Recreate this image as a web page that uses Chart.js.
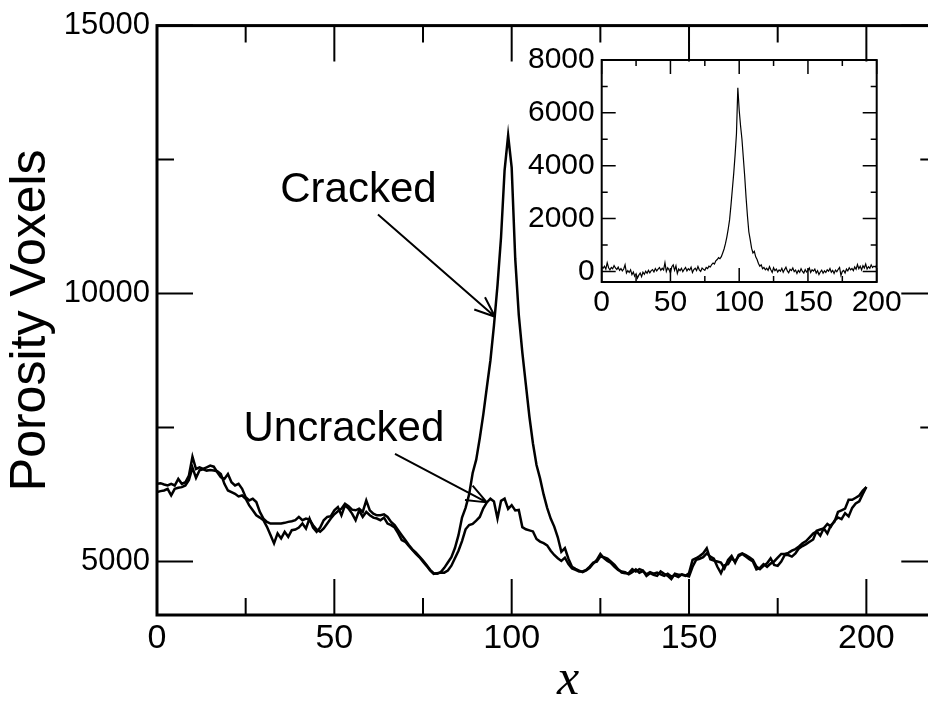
<!DOCTYPE html>
<html>
<head>
<meta charset="utf-8">
<title>Porosity Voxels</title>
<script src="https://cdn.jsdelivr.net/npm/chart.js@4.4.1/dist/chart.umd.min.js"></script>
<style>
  html, body { margin: 0; padding: 0; background: #fff; overflow: hidden; }
  #wrap { position: relative; width: 928px; height: 719px; overflow: hidden; }
  #mainChart { position: absolute; left: 0; top: 0; }
  #insetChart { position: absolute; left: 500px; top: 30px; }
</style>
</head>
<body>
<div id="wrap">
  <canvas id="mainChart" width="950" height="719"></canvas>
  <canvas id="insetChart" width="420" height="300"></canvas>
</div>
<script>
// porosity voxels per slice x = 0..200
const cracked = [
  6448, 6460, 6435, 6417, 6448, 6417, 6540, 6448, 6478, 6602,
  6954, 6725, 6756, 6725, 6756, 6787, 6768, 6664, 6571, 6540,
  6633, 6478, 6417, 6448, 6355, 6200, 6139, 6170, 6108, 5923,
  5800, 5738, 5707, 5707, 5707, 5707, 5720, 5738, 5750, 5769,
  5830, 5769, 5800, 5781, 5676, 5596, 5553, 5614, 5707, 5800,
  5880, 5935, 5985, 6077, 6028, 5966, 5954, 5985, 5923, 6139,
  5954, 5892, 5861, 5861, 5880, 5830, 5738, 5676, 5583, 5490,
  5398, 5306, 5225, 5164, 5090, 5016, 4935, 4843, 4781, 4769,
  4800, 4880, 4980, 5080, 5250, 5490, 5820, 6000, 6250, 6650,
  6900, 7300, 7745, 8250, 8750, 9400, 10150, 11050, 12300, 12950,
  12350, 10650, 9600, 8900, 8300, 7700, 7200, 6800, 6550, 6250,
  6000, 5800, 5650, 5450, 5180, 5250, 5050, 4900, 4860, 4830,
  4800, 4830, 4880, 4960, 5030, 5140, 5060, 5010, 4970, 4900,
  4840, 4810, 4800, 4760, 4800, 4850, 4790, 4820, 4760, 4800,
  4770, 4790, 4760, 4730, 4770, 4720, 4740, 4710, 4760, 4740,
  4720, 4900, 5030, 5050, 5080, 5150, 5090, 5050, 4900, 4780,
  4930, 4950, 5060, 5000, 5100, 5140, 5090, 5040, 5000, 4850,
  4880, 4950, 4900, 4960, 5000, 5070, 5140, 5140, 5160, 5200,
  5230, 5280, 5340, 5380, 5450, 5520, 5560, 5480, 5620, 5700,
  5650, 5760, 5820, 5790, 5900, 5840, 6000, 6080, 6120, 6260,
  6390
];
const uncracked = [
  6293, 6312, 6324, 6355, 6231, 6355, 6374, 6386, 6417, 6520,
  6750, 6560, 6700, 6720, 6695, 6707, 6695, 6683, 6633, 6448,
  6324, 6293, 6262, 6213, 6231, 6170, 6046, 5954, 5861, 5818,
  5769, 5645, 5491, 5336, 5522, 5429, 5553, 5460, 5583, 5596,
  5633, 5707, 5614, 5800, 5633, 5553, 5633, 5769, 5830, 5843,
  5954, 6015, 5860, 6046, 5985, 5892, 5769, 5954, 5830, 5923,
  5861, 5818, 5800, 5769, 5818, 5707, 5676, 5633, 5522, 5398,
  5367, 5287, 5213, 5139, 5077, 4997, 4917, 4830, 4769, 4781,
  4793, 4790, 4830, 4920, 5060, 5200, 5380, 5600, 5680, 5700,
  5760, 5830, 5990, 6100, 6170, 6120, 5800, 6130, 6170, 5980,
  6050, 5950, 5960, 5640, 5600, 5580, 5560, 5420, 5370, 5340,
  5300, 5200, 5120, 5060, 5010, 5070, 4950, 4870, 4843, 4812,
  4812, 4843, 4904, 4978, 4997, 5090, 5077, 5052, 4997, 4935,
  4855, 4793, 4781, 4781, 4855, 4812, 4855, 4830, 4731, 4781,
  4750, 4731, 4812, 4769, 4731, 4670, 4769, 4750, 4750, 4731,
  4781, 5028, 5059, 5102, 5151, 5244, 5040, 5015, 4997, 4978,
  4873, 5028, 5102, 4978, 5120, 5151, 5120, 5077, 5028, 4904,
  4855, 4917, 4966, 5059, 4935, 4917, 4997, 5120, 5120, 5090,
  5151, 5244, 5287, 5324, 5367, 5410, 5571, 5596, 5614, 5522,
  5676, 5738, 5923, 5954, 5985, 6151, 6151, 6188, 6231, 6324,
  6386
];
// inset: cracked minus uncracked
const difference = [
  180, 120, 200, 90, 330, 140, 60, 150, 100, 220,
  130, 70, 160, 40, 110, 20, 90, 250, -60, 30,
  -40, 60, -120, -20, -180, -90, -250, -140, -60, -200,
  -30, -110, 10, -70, 40, -50, 30, 70, -20, 110,
  20, 90, 150, 40, 120, 60, 330, 0, 140, 60,
  -60, 180, 250, 40, 210, -80, 90, 30, 120, -10,
  80, 150, 20, 100, 50, 160, -40, 70, 120, 30,
  190, 60, 0, 130, 80, 40, 150, 110, 200, 170,
  260, 320, 280, 400, 450, 520, 480, 560, 700, 850,
  1050, 1300, 1600, 1950, 2500, 3100, 3700, 4400, 5200, 6950,
  6100, 5500, 5000, 4300, 3600, 2800, 2100, 1500, 1200, 880,
  700, 760, 550, 450, 300, 200, 250, 100, 150, 60,
  120, 40, 180, 60, -40, 140, 30, 90, -20, 60,
  10, 120, -30, 70, 160, 20, -50, 80, 30, 130,
  -10, 50, -80, 40, -30, 100, 0, -60, 70, -20,
  40, 130, -40, 60, 10, 90, -60, 30, -120, -20,
  50, -70, 20, -40, 60, 10, 110, -30, 40, -80,
  50, -10, 80, 150, -150, 0, 40, -60, 90, 20,
  140, 60, 110, 30, 170, 80, 260, 100, 200, 60,
  220, 130, 280, 90, 180, 120, 250, 150, 200, 170,
  240
];
const mainXTicks = [0, 50, 100, 150, 200];
const mainYTicks = [5000, 10000, 15000];
const insetXTicks = [0, 50, 100, 150, 200];
const insetYTicks = [0, 2000, 4000, 6000, 8000];

Chart.defaults.font.family = '"Liberation Sans", Arial, Helvetica, sans-serif';
Chart.defaults.color = '#000';

function toPoints(arr) {
  return arr.map(function (v, i) { return { x: i, y: v }; });
}

// frame + inward ticks on all four sides (like the original plot)
const frameTicks = {
  id: 'frameTicks',
  afterDatasetsDraw(chart, args, o) {
    const { ctx, chartArea: a, scales: { x, y } } = chart;
    ctx.save();
    ctx.strokeStyle = '#000';
    ctx.lineWidth = o.tickWidth;
    ctx.beginPath();
    for (let v = x.min; v <= x.max; v += o.xStep) {
      const px = x.getPixelForValue(v);
      const len = (v % o.xMajor === 0) ? o.majorLen : o.minorLen;
      ctx.moveTo(px, a.bottom); ctx.lineTo(px, a.bottom - len);
      ctx.moveTo(px, a.top); ctx.lineTo(px, a.top + len);
    }
    for (let v = o.yStart; v <= y.max; v += o.yStep) {
      const py = y.getPixelForValue(v);
      const len = (v % o.yMajor === 0) ? o.majorLen : o.minorLen;
      ctx.moveTo(a.left, py); ctx.lineTo(a.left + len, py);
      ctx.moveTo(a.right, py); ctx.lineTo(a.right - len, py);
    }
    ctx.stroke();
    ctx.lineWidth = o.frameWidth;
    ctx.strokeRect(a.left, a.top, a.right - a.left, a.bottom - a.top);
    ctx.restore();
  }
};

// text labels and arrows, placed in data units
const annotations = {
  id: 'annotations',
  afterDraw(chart, args, o) {
    const { ctx, scales: { x, y } } = chart;
    ctx.save();
    ctx.fillStyle = '#000';
    ctx.strokeStyle = '#000';
    ctx.textAlign = 'center';
    ctx.textBaseline = 'middle';
    o.labels.forEach(function (l) {
      ctx.font = l.font;
      ctx.fillText(l.text, x.getPixelForValue(l.x), y.getPixelForValue(l.y));
    });
    ctx.lineWidth = 2;
    o.arrows.forEach(function (ar) {
      const x0 = x.getPixelForValue(ar.from[0]), y0 = y.getPixelForValue(ar.from[1]);
      const x1 = x.getPixelForValue(ar.to[0]), y1 = y.getPixelForValue(ar.to[1]);
      const ang = Math.atan2(y1 - y0, x1 - x0);
      ctx.beginPath();
      ctx.moveTo(x0, y0);
      ctx.lineTo(x1, y1);
      [-1, 1].forEach(function (s) {
        const a2 = ang + Math.PI + s * 0.38;
        ctx.moveTo(x1, y1);
        ctx.lineTo(x1 + 22 * Math.cos(a2), y1 + 22 * Math.sin(a2));
      });
      ctx.stroke();
    });
    ctx.restore();
  }
};

function fixedTicks(list) {
  return function (scale) {
    scale.ticks = list.map(function (v) { return { value: v }; });
  };
}
function plainNumber(value) {
  return String(value);
}

new Chart(document.getElementById('mainChart'), {
  type: 'line',
  data: {
    datasets: [
      { label: 'Cracked', data: toPoints(cracked), borderColor: '#000', borderWidth: 2.5, pointRadius: 0, fill: false, tension: 0 },
      { label: 'Uncracked', data: toPoints(uncracked), borderColor: '#000', borderWidth: 2.5, pointRadius: 0, fill: false, tension: 0 }
    ]
  },
  options: {
    responsive: false,
    animation: false,
    layout: { padding: { top: 22, right: 12.7, bottom: 0, left: 0 } },
    plugins: {
      legend: { display: false },
      tooltip: { enabled: false },
      frameTicks: { xStep: 25, xMajor: 50, yStart: 5000, yStep: 2500, yMajor: 5000, majorLen: 36, minorLen: 17, tickWidth: 2, frameWidth: 3 },
      annotations: {
        labels: [
          { text: 'Cracked', x: 56.8, y: 11917, font: '42px "Liberation Sans", Arial, sans-serif' },
          { text: 'Uncracked', x: 52.7, y: 7472, font: '42px "Liberation Sans", Arial, sans-serif' },
          { text: 'x', x: 115.9, y: 2780, font: 'italic 50px "Liberation Serif", "Times New Roman", serif' }
        ],
        arrows: [
          { from: [62.3, 11473], to: [95.3, 9565] },
          { from: [67.1, 7009], to: [93.0, 6102] }
        ]
      }
    },
    scales: {
      x: {
        type: 'linear', min: 0, max: 220,
        grid: { display: false, drawTicks: false }, border: { display: false },
        afterBuildTicks: fixedTicks(mainXTicks),
        afterFit: function (s) { s.height = 104; },
        ticks: { font: { size: 34 }, padding: 3, maxRotation: 0, autoSkip: false, callback: plainNumber }
      },
      y: {
        min: 4000, max: 15000,
        grid: { display: false, drawTicks: false }, border: { display: false },
        afterBuildTicks: fixedTicks(mainYTicks),
        afterFit: function (s) { s.width = 157; },
        ticks: { font: { size: 31 }, padding: 7, callback: plainNumber },
        title: { display: true, text: 'Porosity Voxels', font: { size: 50 }, padding: { top: 1, bottom: 0 } }
      }
    }
  },
  plugins: [frameTicks, annotations]
});

new Chart(document.getElementById('insetChart'), {
  type: 'line',
  data: {
    datasets: [
      { label: 'Difference', data: toPoints(difference), borderColor: '#000', borderWidth: 1.2, pointRadius: 0, fill: false, tension: 0 }
    ]
  },
  options: {
    responsive: false,
    animation: false,
    layout: { padding: { top: 30, right: 43.3, bottom: 0, left: 0 } },
    plugins: {
      legend: { display: false },
      tooltip: { enabled: false },
      frameTicks: { xStep: 25, xMajor: 50, yStart: 0, yStep: 1000, yMajor: 2000, majorLen: 14, minorLen: 6, tickWidth: 1.5, frameWidth: 2 }
    },
    scales: {
      x: {
        type: 'linear', min: 0, max: 200,
        grid: { display: false, drawTicks: false }, border: { display: false },
        afterBuildTicks: fixedTicks(insetXTicks),
        afterFit: function (s) { s.height = 48; },
        ticks: { font: { size: 30 }, padding: 3, maxRotation: 0, autoSkip: false, callback: plainNumber }
      },
      y: {
        min: -400, max: 8000,
        grid: { display: false, drawTicks: false }, border: { display: false },
        afterBuildTicks: fixedTicks(insetYTicks),
        afterFit: function (s) { s.width = 101.7; },
        ticks: { font: { size: 30 }, padding: 7, callback: plainNumber }
      }
    }
  },
  plugins: [frameTicks]
});
</script>
</body>
</html>
